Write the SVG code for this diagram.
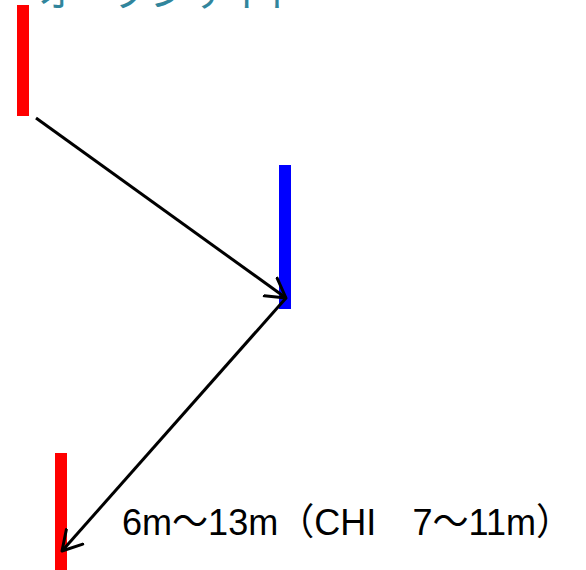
<svg xmlns="http://www.w3.org/2000/svg" width="586" height="570" viewBox="0 0 586 570">
<defs>
<style>
.bar-red{fill:#FF0000}
.bar-blue{fill:#0000FF}
.conn{stroke:#000;stroke-width:3;fill:none}
.title{font-family:"Noto Sans CJK JP","Noto Sans",sans-serif;font-size:38px;fill:#31859C}
.label{font-family:"Liberation Sans","Noto Sans CJK JP",sans-serif;font-size:37px;fill:#000}
</style>
<marker id="arr" markerUnits="userSpaceOnUse" markerWidth="30" markerHeight="30" refX="20" refY="12" orient="auto" viewBox="0 0 30 24">
<path d="M1,1 L20,12 L1,23" fill="none" stroke="#000" stroke-width="3" stroke-linecap="round" stroke-linejoin="round"/>
</marker>
</defs>
<rect width="586" height="570" fill="#fff"/>
<text class="title" x="38" y="6">オープンサイド</text>
<g id="node-red-top"><rect class="bar-red" x="17" y="5" width="12" height="111"/></g>
<g id="node-blue"><rect class="bar-blue" x="279" y="165" width="12" height="144"/></g>
<g id="node-red-bottom"><rect class="bar-red" x="55" y="453" width="12" height="117"/></g>
<g id="connectors">
<line class="conn" x1="36" y1="118" x2="286" y2="298" marker-end="url(#arr)"/>
<line class="conn" x1="286" y1="298" x2="62" y2="551" marker-end="url(#arr)"/>
</g>
<text class="label" x="122" y="535" textLength="450" lengthAdjust="spacingAndGlyphs">6m～13m（CHI　7～11m）</text>
</svg>
